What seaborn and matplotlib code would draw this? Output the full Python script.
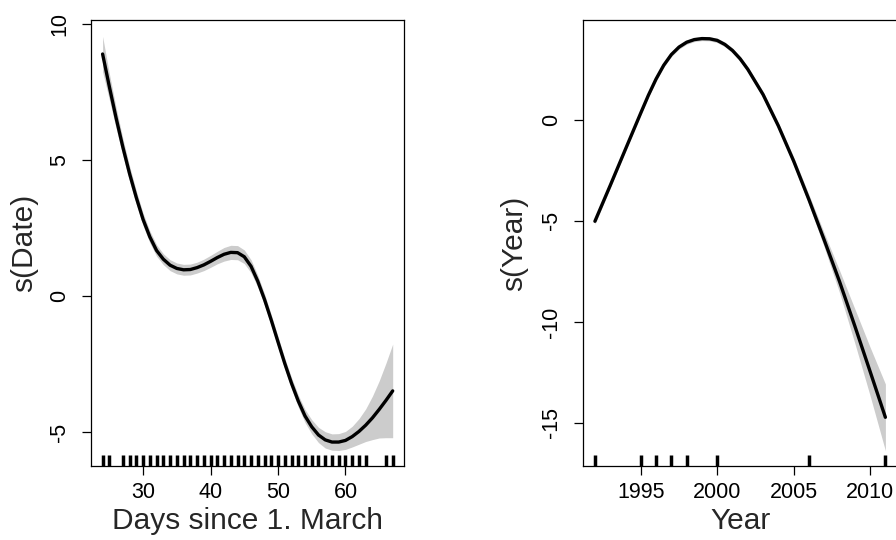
import numpy as np
import pandas as pd
import matplotlib
matplotlib.use("Agg")
import matplotlib.pyplot as plt
import seaborn as sns

# ---- data: left panel, s(Date) ----
date_x = [24, 25, 26, 27, 28, 29, 30, 31, 32, 33, 34, 35, 36, 37, 38, 39, 40,
          41, 42, 43, 44, 45, 46, 47, 48, 49, 50, 51, 52, 53, 54, 55, 56, 57,
          58, 59, 60, 61, 62, 63, 64, 65, 66, 67]
date_fit = [8.9, 7.7, 6.55, 5.48, 4.5, 3.62, 2.82, 2.18, 1.68, 1.36, 1.14, 1.02, 0.97,
            0.98, 1.05, 1.15, 1.28, 1.42, 1.54, 1.61, 1.6, 1.45, 1.1, 0.55, -0.12,
            -0.88, -1.68, -2.47, -3.2, -3.85, -4.4, -4.8, -5.1, -5.28, -5.36,
            -5.36, -5.3, -5.16, -4.97, -4.74, -4.47, -4.16, -3.83, -3.48]
date_se = [0.65, 0.48, 0.38, 0.32, 0.28, 0.25, 0.23, 0.22, 0.21, 0.2, 0.2, 0.2,
           0.2, 0.2, 0.2, 0.21, 0.22, 0.23, 0.25, 0.26, 0.26, 0.25, 0.24, 0.22,
           0.21, 0.2, 0.2, 0.2, 0.21, 0.22, 0.24, 0.26, 0.28, 0.3, 0.3, 0.31,
           0.33, 0.38, 0.47, 0.6, 0.8, 1.05, 1.37, 1.72]
date_rug = [24, 25] + list(range(27, 64)) + [66, 67]

# ---- data: right panel, s(Year) ----
year_x = [1992, 1993, 1994, 1995, 1995.5, 1996, 1996.5, 1997, 1997.5, 1998,
          1998.5, 1999, 1999.5, 2000, 2000.5, 2001, 2001.5, 2002, 2003, 2004,
          2005, 2006, 2007, 2008, 2009, 2010, 2011]
year_fit = [-5.02, -3.25, -1.45, 0.34, 1.22, 2.02, 2.7, 3.23, 3.6, 3.84, 3.97,
            4.02, 4.01, 3.93, 3.73, 3.43, 3.02, 2.5, 1.25, -0.3, -2.04, -3.95,
            -5.95, -8.0, -10.2, -12.45, -14.72]
year_se = [0.15, 0.12, 0.1, 0.1, 0.1, 0.1, 0.1, 0.1, 0.1, 0.1, 0.1, 0.1, 0.1,
           0.11, 0.11, 0.12, 0.12, 0.13, 0.15, 0.17, 0.2, 0.25, 0.35, 0.55,
           0.85, 1.2, 1.65]
year_rug = [1992, 1995, 1996, 1997, 1998, 2000, 2006, 2011]

date_xticks = [30, 40, 50, 60]
date_yticks = [-5, 0, 5, 10]
year_xticks = [1995, 2000, 2005, 2010]
year_yticks = [-15, -10, -5, 0]

sns.set_style("ticks")
plt.rcParams["font.family"] = ["Liberation Sans", "DejaVu Sans"]
plt.rcParams["axes.unicode_minus"] = False

W, H = 896, 540
fig = plt.figure(figsize=(W / 100, H / 100), dpi=100)
fig.patch.set_facecolor("white")


def panel(rect, x, fit, se, rug, xlim, ylim, xticks, yticks, xlabel, ylabel,
          xlab_y, ylab_x):
    ax = fig.add_axes(rect)
    df = pd.DataFrame({"x": x, "fit": fit, "se": se})
    ax.fill_between(df["x"], df["fit"] - df["se"], df["fit"] + df["se"],
                    color="#cccccc", lw=0, zorder=1)
    sns.lineplot(data=df, x="x", y="fit", ax=ax, color="black", linewidth=2.4,
                 zorder=3, estimator=None, sort=False)
    sns.rugplot(x=rug, ax=ax, height=0.024, color="black", linewidth=2.5,
                clip_on=False, zorder=4, expand_margins=False)
    ax.set_xlim(*xlim)
    ax.set_ylim(*ylim)
    ax.set_xticks(xticks)
    ax.set_yticks(yticks)
    ax.set_xticklabels([str(t) for t in xticks])
    ax.set_yticklabels([str(t) for t in yticks], rotation=90, va="center")
    for s in ax.spines.values():
        s.set_visible(True)
        s.set_color("black")
        s.set_linewidth(0.9)
    ax.tick_params(axis="both", direction="out", length=6.5, width=0.9,
                   colors="black", labelsize=15.5)
    ax.tick_params(axis="x", pad=5)
    ax.tick_params(axis="y", pad=8.5)
    ax.set_xlabel(xlabel, fontsize=21.5)
    ax.set_ylabel(ylabel, fontsize=21.5)
    ax.xaxis.set_label_coords(0.5, xlab_y)
    ax.yaxis.set_label_coords(ylab_x, 0.5)
    ax.grid(False)
    return ax


# pixel layout
bot = (H - 466) / H
hgt = 446 / H
panel([91 / W, bot, 313.3 / W, hgt], date_x, date_fit, date_se, date_rug,
      (22.28, 68.72), (-6.24, 10.15), date_xticks, date_yticks,
      "Days since 1. March", "s(Date)", -0.092, -0.168)
panel([583.3 / W, bot, 313.7 / W, hgt], year_x, year_fit, year_se, year_rug,
      (1991.24, 2011.76), (-17.13, 4.94), year_xticks, year_yticks,
      "Year", "s(Year)", -0.092, -0.176)

fig.savefig("out.png", dpi=100, facecolor="white")
